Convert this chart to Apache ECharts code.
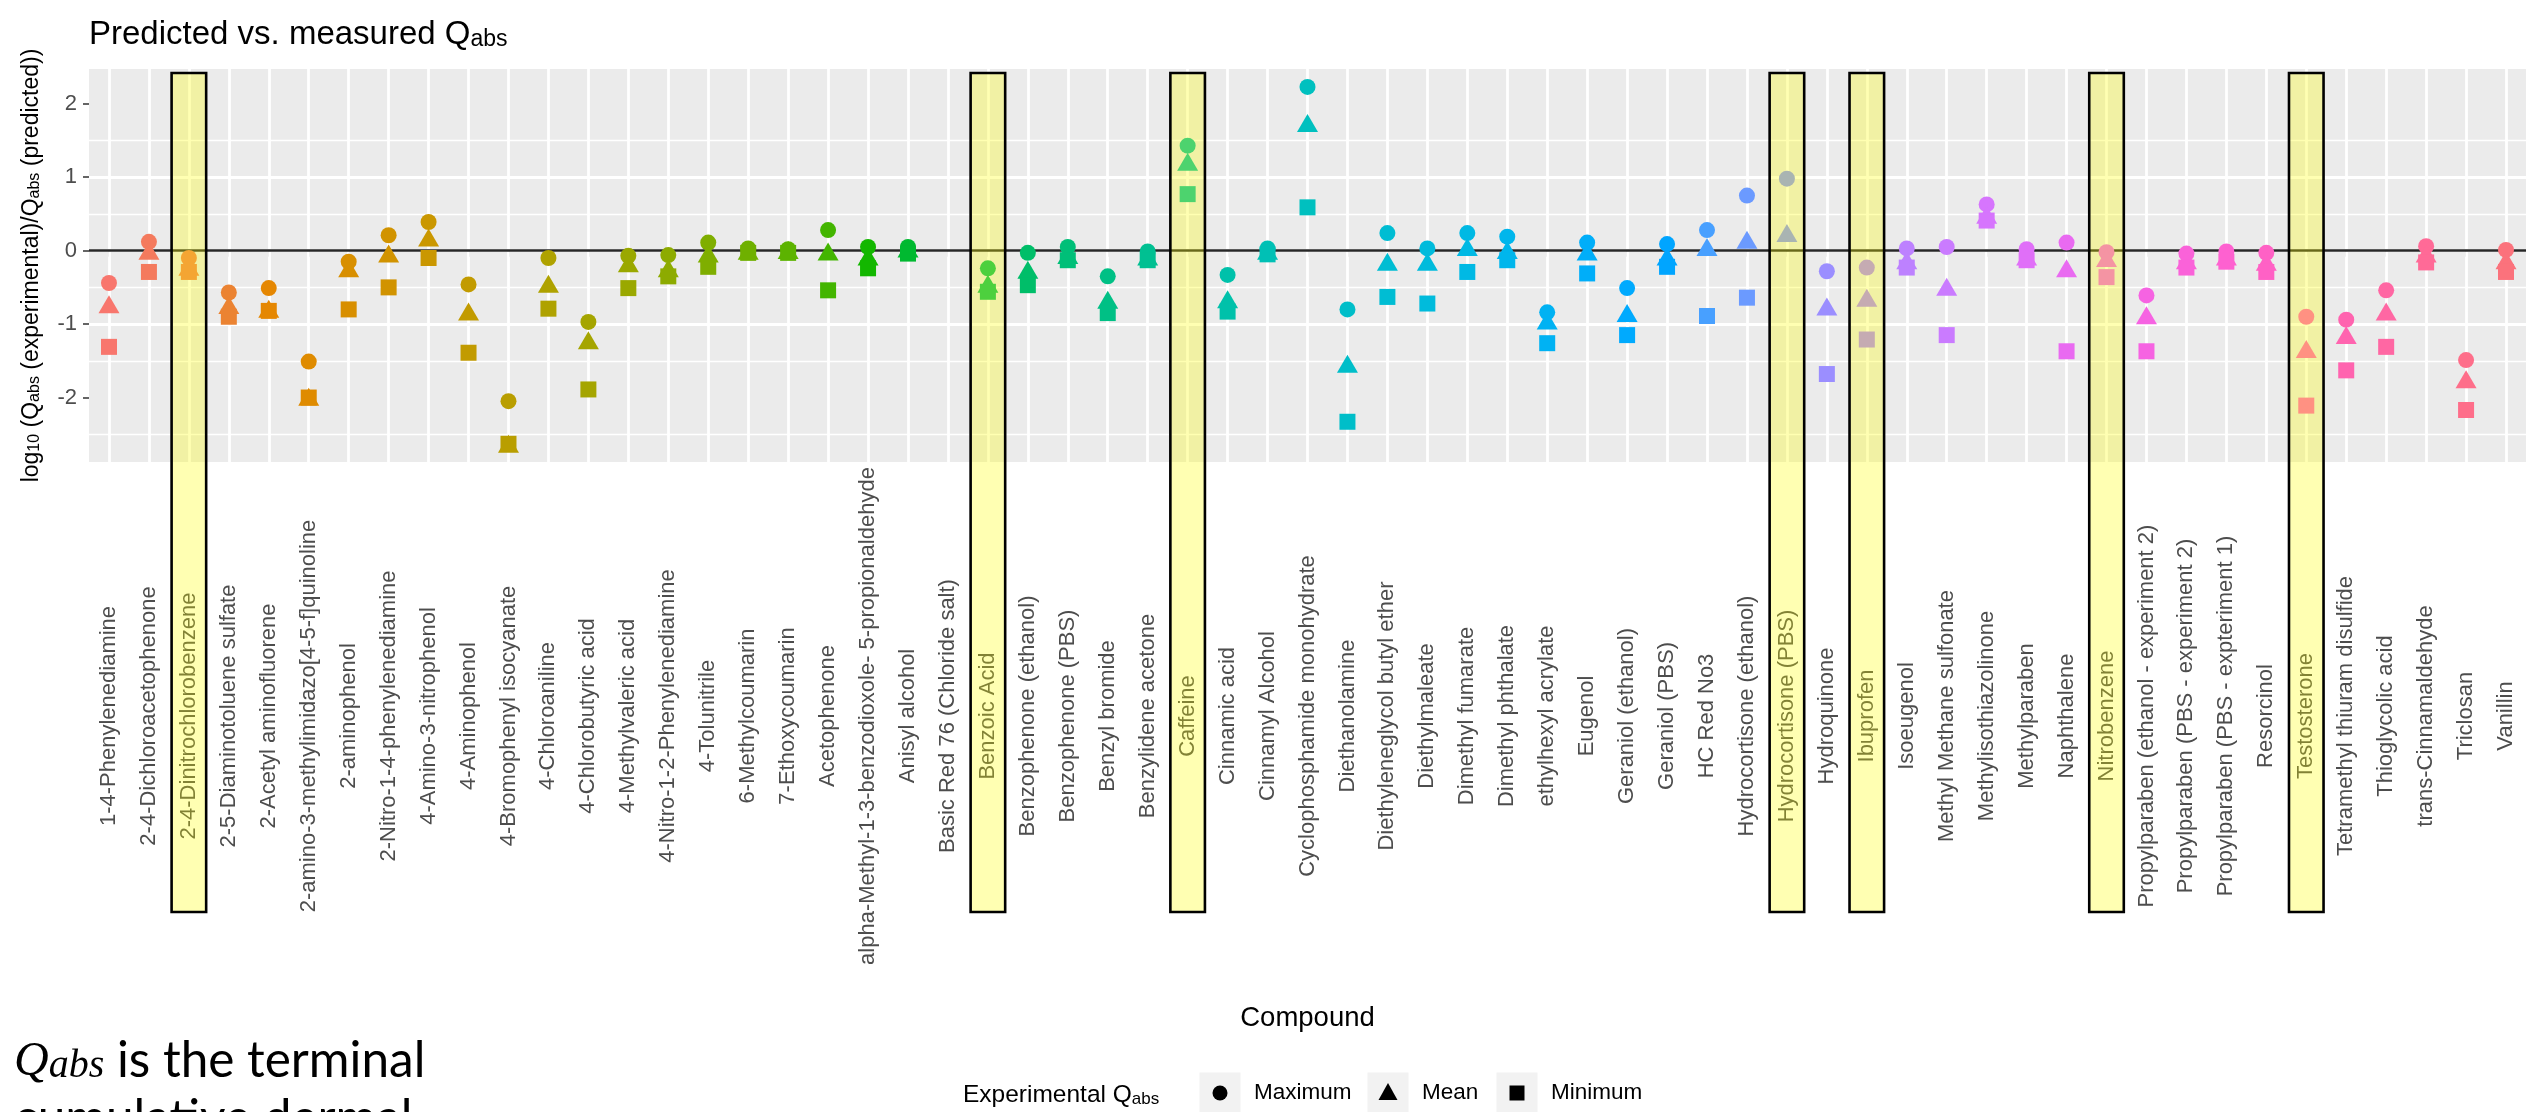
<!DOCTYPE html>
<html>
<head>
<meta charset="utf-8">
<title>Predicted vs. measured Qabs</title>
<script src="https://cdn.jsdelivr.net/npm/echarts@6.0.0/dist/echarts.min.js"></script>
<style>
  html, body { margin: 0; padding: 0; background: #ffffff; }
  #chart { width: 2526px; height: 1112px; }
</style>
</head>
<body>
<div id="chart"></div>
<script>
// Compounds on the x axis
const compounds = [
  '1-4-Phenylenediamine', '2-4-Dichloroacetophenone', '2-4-Dinitrochlorobenzene',
  '2-5-Diaminotoluene sulfate', '2-Acetyl aminofluorene',
  '2-amino-3-methylimidazo[4-5-f]quinoline', '2-aminophenol',
  '2-Nitro-1-4-phenylenediamine', '4-Amino-3-nitrophenol', '4-Aminophenol',
  '4-Bromophenyl isocyanate', '4-Chloroaniline', '4-Chlorobutyric acid',
  '4-Methylvaleric acid', '4-Nitro-1-2-Phenylenediamine', '4-Tolunitrile',
  '6-Methylcoumarin', '7-Ethoxycoumarin', 'Acetophenone',
  'alpha-Methyl-1-3-benzodioxole- 5-propionaldehyde', 'Anisyl alcohol',
  'Basic Red 76 (Chloride salt)', 'Benzoic Acid', 'Benzophenone (ethanol)',
  'Benzophenone (PBS)', 'Benzyl bromide', 'Benzylidene acetone', 'Caffeine',
  'Cinnamic acid', 'Cinnamyl Alcohol', 'Cyclophosphamide monohydrate',
  'Diethanolamine', 'Diethyleneglycol butyl ether', 'Diethylmaleate',
  'Dimethyl fumarate', 'Dimethyl phthalate', 'ethylhexyl acrylate', 'Eugenol',
  'Geraniol (ethanol)', 'Geraniol (PBS)', 'HC Red No3', 'Hydrocortisone (ethanol)',
  'Hydrocortisone (PBS)', 'Hydroquinone', 'Ibuprofen', 'Isoeugenol',
  'Methyl Methane sulfonate', 'Methylisothiazolinone', 'Methylparaben',
  'Naphthalene', 'Nitrobenzene', 'Propylparaben (ethanol - experiment 2)',
  'Propylparaben (PBS - experiment 2)', 'Propylparaben (PBS - expteriment 1)',
  'Resorcinol', 'Testosterone', 'Tetramethyl thiuram disulfide',
  'Thioglycolic acid', 'trans-Cinnamaldehyde', 'Triclosan', 'Vanillin'
];

// log10(Qabs experimental / Qabs predicted) for the experimental maximum, mean and minimum
const maxValues = [
  -0.44, 0.12, -0.10, -0.57, -0.51, -1.51, -0.15, 0.21, 0.39, -0.46,
  -2.05, -0.10, -0.97, -0.07, -0.06, 0.11, 0.03, 0.02, 0.28, 0.05,
  0.05, null, -0.24, -0.03, 0.05, -0.35, -0.01, 1.43, -0.33, 0.03,
  2.23, -0.80, 0.24, 0.03, 0.24, 0.19, -0.84, 0.11, -0.51, 0.09,
  0.28, 0.75, 0.98, -0.28, -0.23, 0.03, 0.05, 0.63, 0.02, 0.11,
  -0.02, -0.61, -0.04, -0.01, -0.03, -0.90, -0.94, -0.54, 0.06, -1.49,
  0.01
];
const meanValues = [
  -0.73, 0.00, -0.22, -0.74, -0.79, -1.99, -0.24, -0.04, 0.18, -0.83,
  -2.63, -0.45, -1.22, -0.17, -0.24, -0.04, 0.00, 0.01, -0.01, -0.08,
  0.03, null, -0.45, -0.26, -0.06, -0.67, -0.08, 1.21, -0.66, 0.00,
  1.74, -1.54, -0.15, -0.15, 0.05, 0.01, -0.95, -0.01, -0.85, -0.08,
  0.05, 0.15, 0.24, -0.76, -0.64, -0.13, -0.49, 0.49, -0.08, -0.24,
  -0.10, -0.88, -0.13, -0.08, -0.15, -1.34, -1.15, -0.83, -0.04, -1.75,
  -0.13
];
const minValues = [
  -1.31, -0.29, -0.29, -0.90, -0.82, -2.00, -0.80, -0.50, -0.10, -1.39,
  -2.63, -0.79, -1.89, -0.51, -0.35, -0.22, -0.03, -0.03, -0.54, -0.24,
  -0.04, null, -0.56, -0.47, -0.13, -0.85, -0.13, 0.77, -0.83, -0.05,
  0.59, -2.33, -0.63, -0.72, -0.29, -0.13, -1.26, -0.31, -1.15, -0.22,
  -0.89, -0.64, null, -1.68, -1.21, -0.23, -1.15, 0.41, -0.13, -1.37,
  -0.36, -1.37, -0.23, -0.15, -0.29, -2.11, -1.63, -1.31, -0.16, -2.17,
  -0.29
];

// Compounds marked with a box
const highlighted = [
  '2-4-Dinitrochlorobenzene', 'Benzoic Acid', 'Caffeine', 'Hydrocortisone (PBS)',
  'Ibuprofen', 'Nitrobenzene', 'Testosterone'
];

// y axis tick values
const yTicks = [-2, -1, 0, 1, 2];

// legend entries
const legendLabels = ['Maximum', 'Mean', 'Minimum'];

const FONT = "'Liberation Sans', Arial, Helvetica, sans-serif";
const SERIF = "'Liberation Serif', 'DejaVu Serif', serif";
const BODY = "Lato, 'Open Sans', sans-serif";

// Evenly spaced hues in HCL space (L = 65, C = 100), one colour per compound
function hclToHex(h, c, l) {
  const hr = h * Math.PI / 180;
  const U = c * Math.cos(hr), V = c * Math.sin(hr);
  const Xn = 95.047, Yn = 100.0, Zn = 108.883;
  const Y = l > 8 ? Yn * Math.pow((l + 16) / 116, 3) : Yn * l / 903.3;
  const den = Xn + 15 * Yn + 3 * Zn;
  const un = 4 * Xn / den, vn = 9 * Yn / den;
  const u = U / (13 * l) + un, v = V / (13 * l) + vn;
  const X = Y * 9 * u / (4 * v);
  const Z = Y * (12 - 3 * u - 20 * v) / (4 * v);
  const x = X / 100, y = Y / 100, z = Z / 100;
  const lin = [
    3.2404542 * x - 1.5371385 * y - 0.4985314 * z,
    -0.9692660 * x + 1.8760108 * y + 0.0415560 * z,
    0.0556434 * x - 0.2040259 * y + 1.0572252 * z
  ];
  return '#' + lin.map(function (t) {
    let g = t <= 0.0031308 ? 12.92 * t : 1.055 * Math.pow(t, 1 / 2.4) - 0.055;
    g = Math.max(0, Math.min(1, g));
    const s = Math.round(g * 255).toString(16);
    return s.length < 2 ? '0' + s : s;
  }).join('');
}
const palette = compounds.map(function (_, i) {
  return hclToHex(15 + i * 360 / compounds.length, 100, 65);
});
const colourByIndex = function (p) { return palette[p.dataIndex]; };

const chart = echarts.init(document.getElementById('chart'), null, { renderer: 'canvas' });

const option = {
  animation: false,
  backgroundColor: '#ffffff',
  title: {
    text: '{m|Predicted vs. measured Q}{s|abs}',
    left: 89,
    top: 11,
    padding: 0,
    textStyle: {
      fontFamily: FONT, fontWeight: 'normal', color: '#000000',
      rich: {
        m: { fontFamily: FONT, fontSize: 33, lineHeight: 40, color: '#000000', fontWeight: 'normal', verticalAlign: 'bottom' },
        s: { fontFamily: FONT, fontSize: 23, lineHeight: 17, color: '#000000', fontWeight: 'normal', verticalAlign: 'bottom' }
      }
    }
  },
  grid: {
    left: 89, right: 0, top: 69, height: 393,
    show: true, backgroundColor: '#EBEBEB', borderWidth: 0, containLabel: false
  },
  xAxis: {
    type: 'category',
    data: compounds,
    boundaryGap: true,
    name: 'Compound',
    nameLocation: 'middle',
    nameGap: 540,
    nameTextStyle: { fontFamily: FONT, fontSize: 27.5, lineHeight: 32, color: '#000000' },
    axisLine: { show: false },
    axisTick: { show: true, alignWithLabel: true, interval: 0, length: 6, lineStyle: { color: '#333333', width: 1.5 } },
    axisLabel: {
      interval: 0,
      rotate: 90,
      align: 'center',
      verticalAlign: 'middle',
      margin: 254,
      fontFamily: FONT,
      fontSize: 22,
      color: '#4D4D4D'
    },
    splitLine: { show: false }
  },
  yAxis: {
    type: 'value',
    min: -2.878,
    max: 2.474,
    minInterval: 1,
    maxInterval: 1,
    name: '{m|log}{s|10}{m| (Q}{s|abs}{m| (experimental)/Q}{s|abs}{m| (predicted))}',
    nameLocation: 'middle',
    nameRotate: 90,
    nameGap: 46,
    nameTextStyle: {
      fontFamily: FONT, color: '#000000',
      rich: {
        m: { fontFamily: FONT, fontSize: 23, lineHeight: 28, color: '#000000', verticalAlign: 'bottom' },
        s: { fontFamily: FONT, fontSize: 16, lineHeight: 13, color: '#000000', verticalAlign: 'bottom' }
      }
    },
    axisLine: { show: false },
    axisTick: { show: true, length: 6, customValues: yTicks, lineStyle: { color: '#333333', width: 1.5 } },
    axisLabel: {
      customValues: yTicks,
      margin: 12, fontFamily: FONT, fontSize: 22, color: '#4D4D4D'
    },
    splitLine: { show: true, showMinLine: false, showMaxLine: false, lineStyle: { color: '#FFFFFF', width: 2.8 } },
    minorTick: { show: false, splitNumber: 2 },
    minorSplitLine: { show: true, lineStyle: { color: '#FFFFFF', width: 1.4 } }
  },
  series: [
    {
      // vertical grid lines at every compound
      type: 'scatter',
      data: [],
      z: 1,
      silent: true,
      markLine: {
        silent: true, symbol: 'none', z: 1, animation: false,
        label: { show: false },
        lineStyle: { color: '#FFFFFF', width: 2.8, type: 'solid' },
        data: compounds.map(function (c) { return { xAxis: c }; })
      }
    },
    {
      // reference line at zero
      type: 'scatter',
      data: [],
      z: 1.5,
      silent: true,
      markLine: {
        silent: true, symbol: 'none', z: 1.5, animation: false,
        label: { show: false },
        lineStyle: { color: '#262626', width: 2.6, type: 'solid' },
        data: [{ yAxis: 0 }]
      }
    },
    {
      name: legendLabels[0], type: 'scatter', symbol: 'circle', symbolSize: 16, z: 3,
      itemStyle: { color: colourByIndex, opacity: 1 },
      data: maxValues
    },
    {
      name: legendLabels[1], type: 'scatter', symbol: 'triangle', symbolSize: [21, 18], z: 3,
      itemStyle: { color: colourByIndex, opacity: 1 },
      data: meanValues
    },
    {
      name: legendLabels[2], type: 'scatter', symbol: 'rect', symbolSize: 16, z: 3,
      itemStyle: { color: colourByIndex, opacity: 1 },
      data: minValues
    }
  ]
};

chart.setOption(option);

// Boxes over highlighted compounds, placed through the axis scales
const x0 = chart.convertToPixel({ xAxisIndex: 0 }, compounds[0]);
const x1 = chart.convertToPixel({ xAxisIndex: 0 }, compounds[1]);
const band = x1 - x0;
const boxTop = chart.convertToPixel({ yAxisIndex: 0 }, 2.42);
const boxBottom = 912;
const boxWidth = band * 0.865;

const boxes = highlighted.map(function (name) {
  const cx = chart.convertToPixel({ xAxisIndex: 0 }, name);
  return {
    type: 'rect',
    silent: true,
    z: 100,
    shape: { x: cx - boxWidth / 2, y: boxTop, width: boxWidth, height: boxBottom - boxTop },
    style: { fill: 'rgba(255,255,0,0.3)', stroke: '#000000', lineWidth: 2.6 }
  };
});

// Legend: grey keys with black symbols, then the labels
const legendY = 1093;
const keyCentres = [1220, 1388, 1517];
const labelLefts = [1254, 1422, 1551];
const legendParts = [];
keyCentres.forEach(function (cx, i) {
  legendParts.push({
    type: 'rect', silent: true, z: 4,
    shape: { x: cx - 20.5, y: legendY - 20.5, width: 41, height: 41 },
    style: { fill: '#F2F2F2' }
  });
  legendParts.push({
    type: 'text', silent: true, z: 5,
    style: {
      x: labelLefts[i], y: legendY, text: legendLabels[i],
      verticalAlign: 'middle', font: '22.5px ' + FONT, fill: '#000000'
    }
  });
});
legendParts.push({
  type: 'circle', silent: true, z: 5,
  shape: { cx: keyCentres[0], cy: legendY, r: 7.5 },
  style: { fill: '#000000' }
});
legendParts.push({
  type: 'polygon', silent: true, z: 5,
  shape: { points: [[keyCentres[1], legendY - 10], [keyCentres[1] + 9.5, legendY + 7], [keyCentres[1] - 9.5, legendY + 7]] },
  style: { fill: '#000000' }
});
legendParts.push({
  type: 'rect', silent: true, z: 5,
  shape: { x: keyCentres[2] - 7.5, y: legendY - 7.5, width: 15, height: 15 },
  style: { fill: '#000000' }
});
legendParts.push({
  // legend title
  type: 'text', silent: true, z: 5,
  style: {
    x: 963, y: legendY,
    text: '{m|Experimental Q}{s|abs}',
    verticalAlign: 'middle',
    rich: {
      m: { fontFamily: FONT, fontSize: 24.5, lineHeight: 30, fill: '#000000', verticalAlign: 'bottom' },
      s: { fontFamily: FONT, fontSize: 17, lineHeight: 14, fill: '#000000', verticalAlign: 'bottom' }
    }
  }
});

// Note on the definition of Qabs
const notes = [
  {
    type: 'text', silent: true, z: 5,
    style: {
      x: 14, y: 1058,
      text: '{q|Q}{a|abs}{t| is the terminal}',
      verticalAlign: 'middle',
      rich: {
        q: { fontFamily: SERIF, fontStyle: 'italic', fontSize: 48, lineHeight: 56, fill: '#000000', verticalAlign: 'bottom' },
        a: { fontFamily: SERIF, fontStyle: 'italic', fontSize: 40, lineHeight: 40, fill: '#000000', verticalAlign: 'bottom' },
        t: { fontFamily: BODY, fontSize: 49.5, lineHeight: 56, fill: '#000000', verticalAlign: 'bottom' }
      }
    }
  },
  {
    type: 'text', silent: true, z: 5,
    style: {
      x: 14, y: 1119,
      text: 'cumulative dermal',
      verticalAlign: 'middle',
      font: '49.5px ' + BODY,
      fill: '#000000'
    }
  }
];

chart.setOption({ graphic: boxes.concat(legendParts, notes) });
</script>
</body>
</html>
